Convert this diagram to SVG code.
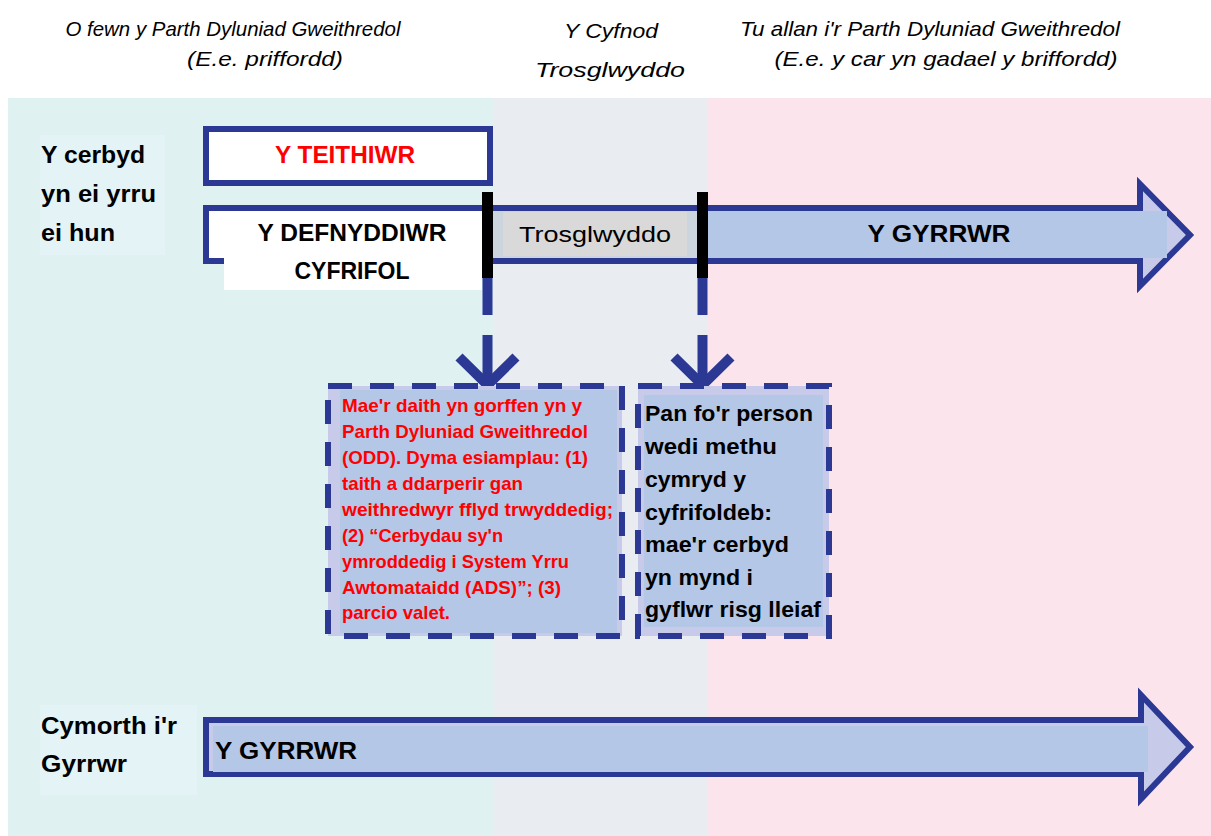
<svg xmlns="http://www.w3.org/2000/svg" width="1211" height="836" viewBox="0 0 1211 836">
<style>
.hdr{font-family:"Liberation Sans",Arial,sans-serif;font-style:italic;font-size:21px;fill:#000}
.b{font-family:"Liberation Sans",Arial,sans-serif;font-weight:bold;fill:#000}
.r{font-family:"Liberation Sans",Arial,sans-serif;font-weight:bold;fill:#ff0000}
.reg{font-family:"Liberation Sans",Arial,sans-serif;fill:#000}
.nv{stroke:#2b3894;fill:none}
.dash{stroke:#2b3894;stroke-width:6;stroke-dasharray:24 18;fill:none}
</style>
<rect width="1211" height="836" fill="#ffffff"/>
<g id="zones">
<rect x="8" y="98" width="485" height="738" fill="#dff1f1"/>
<rect x="493" y="98" width="215" height="738" fill="#e9edf1"/>
<rect x="708" y="98" width="503" height="738" fill="#fce4ec"/>
</g>
<g id="headers">
<text class="hdr" x="233" y="36" text-anchor="middle" textLength="335" lengthAdjust="spacingAndGlyphs">O fewn y Parth Dyluniad Gweithredol</text>
<text class="hdr" x="265" y="66" text-anchor="middle" textLength="156" lengthAdjust="spacingAndGlyphs">(E.e. priffordd)</text>
<text class="hdr" x="611" y="38" text-anchor="middle" textLength="94" lengthAdjust="spacingAndGlyphs">Y Cyfnod</text>
<text class="hdr" x="610" y="77" text-anchor="middle" textLength="150" lengthAdjust="spacingAndGlyphs">Trosglwyddo</text>
<text class="hdr" x="930" y="36" text-anchor="middle" textLength="380" lengthAdjust="spacingAndGlyphs">Tu allan i'r Parth Dyluniad Gweithredol</text>
<text class="hdr" x="946" y="66" text-anchor="middle" textLength="343" lengthAdjust="spacingAndGlyphs">(E.e. y car yn gadael y briffordd)</text>
</g>
<g id="label-self-driving">
<rect x="40" y="135" width="125" height="120" fill="#e3f3f6"/>
<text class="b" font-size="23" x="41" y="163" textLength="104" lengthAdjust="spacingAndGlyphs">Y cerbyd</text>
<text class="b" font-size="23" x="41" y="202" textLength="115" lengthAdjust="spacingAndGlyphs">yn ei yrru</text>
<text class="b" font-size="23" x="41" y="241" textLength="74" lengthAdjust="spacingAndGlyphs">ei hun</text>
</g>
<g id="node-teithiwr">
<rect x="206" y="129" width="284" height="54" fill="#ffffff" stroke="#2b3894" stroke-width="6"/>
<text class="r" font-size="23" x="345" y="163" text-anchor="middle" textLength="140" lengthAdjust="spacingAndGlyphs">Y TEITHIWR</text>
</g>
<g id="arrow-row1">
<polygon points="206,208 1140,208 1140,184 1190,235 1140,286 1140,261 206,261" fill="#c7cae8" stroke="#2b3894" stroke-width="6" stroke-linejoin="miter"/>
<rect x="209" y="211" width="276" height="47" fill="#ffffff"/>
<rect x="490" y="211" width="210" height="47" fill="#ccd5de"/>
<rect x="503" y="212" width="184" height="44" fill="#d9d9d9"/>
<rect x="705" y="211" width="462" height="47" fill="#b4c7e7"/>
<text class="reg" font-size="22" x="595" y="242" text-anchor="middle" textLength="152" lengthAdjust="spacingAndGlyphs">Trosglwyddo</text>
<text class="b" font-size="24" x="939" y="242" text-anchor="middle" textLength="143" lengthAdjust="spacingAndGlyphs">Y GYRRWR</text>
</g>
<g id="node-defnyddiwr">
<rect x="224" y="211" width="258" height="79" fill="#ffffff"/>
<text class="b" font-size="23" x="352" y="241" text-anchor="middle" textLength="189" lengthAdjust="spacingAndGlyphs">Y DEFNYDDIWR</text>
<text class="b" font-size="23" x="352" y="279" text-anchor="middle" textLength="115" lengthAdjust="spacingAndGlyphs">CYFRIFOL</text>
</g>
<g id="connectors">
<rect x="482" y="192" width="11" height="86" fill="#000000"/>
<rect x="697" y="192" width="11" height="86" fill="#000000"/>
<line class="nv" x1="487.5" y1="278" x2="487.5" y2="315" stroke-width="10"/>
<line class="nv" x1="487.5" y1="335" x2="487.5" y2="384" stroke-width="10"/>
<polyline class="nv" points="459,357 487.5,385 516,357" stroke-width="10"/>
<line class="nv" x1="702.5" y1="278" x2="702.5" y2="315" stroke-width="10"/>
<line class="nv" x1="702.5" y1="335" x2="702.5" y2="384" stroke-width="10"/>
<polyline class="nv" points="674,357 702.5,385 731,357" stroke-width="10"/>
</g>
<g id="node-odd-note">
<rect x="328" y="386" width="294" height="250" fill="#c7cae8"/>
<rect x="340" y="390" width="277" height="243" fill="#b4c7e7"/>
<rect class="dash" x="328" y="386" width="294" height="250"/>
<text class="r" font-size="18.5" x="342" y="412" textLength="240" lengthAdjust="spacingAndGlyphs">Mae'r daith yn gorffen yn y</text>
<text class="r" font-size="18.5" x="342" y="438" textLength="246" lengthAdjust="spacingAndGlyphs">Parth Dyluniad Gweithredol</text>
<text class="r" font-size="18.5" x="342" y="464" textLength="246" lengthAdjust="spacingAndGlyphs">(ODD). Dyma esiamplau: (1)</text>
<text class="r" font-size="18.5" x="342" y="490" textLength="181" lengthAdjust="spacingAndGlyphs">taith a ddarperir gan</text>
<text class="r" font-size="18.5" x="342" y="516" textLength="271" lengthAdjust="spacingAndGlyphs">weithredwyr fflyd trwyddedig;</text>
<text class="r" font-size="18.5" x="342" y="542" textLength="161" lengthAdjust="spacingAndGlyphs">(2) “Cerbydau sy'n</text>
<text class="r" font-size="18.5" x="342" y="568" textLength="227" lengthAdjust="spacingAndGlyphs">ymroddedig i System Yrru</text>
<text class="r" font-size="18.5" x="342" y="594" textLength="219" lengthAdjust="spacingAndGlyphs">Awtomataidd (ADS)”; (3)</text>
<text class="r" font-size="18.5" x="342" y="619" textLength="108" lengthAdjust="spacingAndGlyphs">parcio valet.</text>
</g>
<g id="node-mrc-note">
<rect x="638" y="386" width="191" height="250" fill="#c7cae8"/>
<rect x="644" y="395" width="179" height="232" fill="#b4c7e7"/>
<rect class="dash" x="638" y="386" width="191" height="250"/>
<text class="b" font-size="22.5" x="645" y="421" textLength="168" lengthAdjust="spacingAndGlyphs">Pan fo'r person</text>
<text class="b" font-size="22.5" x="645" y="454" textLength="132" lengthAdjust="spacingAndGlyphs">wedi methu</text>
<text class="b" font-size="22.5" x="645" y="487" textLength="101" lengthAdjust="spacingAndGlyphs">cymryd y</text>
<text class="b" font-size="22.5" x="645" y="520" textLength="127" lengthAdjust="spacingAndGlyphs">cyfrifoldeb:</text>
<text class="b" font-size="22.5" x="645" y="552" textLength="144" lengthAdjust="spacingAndGlyphs">mae'r cerbyd</text>
<text class="b" font-size="22.5" x="645" y="585" textLength="108" lengthAdjust="spacingAndGlyphs">yn mynd i</text>
<text class="b" font-size="22.5" x="645" y="617" textLength="176" lengthAdjust="spacingAndGlyphs">gyflwr risg lleiaf</text>
</g>
<g id="label-driver-assist">
<rect x="40" y="705" width="157" height="90" fill="#e3f3f6"/>
<text class="b" font-size="23" x="41" y="734" textLength="136" lengthAdjust="spacingAndGlyphs">Cymorth i'r</text>
<text class="b" font-size="23" x="41" y="772" textLength="86" lengthAdjust="spacingAndGlyphs">Gyrrwr</text>
</g>
<g id="arrow-row2">
<polygon points="206,720 1141,720 1141,695 1190,747 1141,799 1141,774 206,774" fill="#c7cae8" stroke="#2b3894" stroke-width="6" stroke-linejoin="miter"/>
<rect x="213" y="726" width="935" height="46" fill="#b4c7e7"/>
<text class="b" font-size="24" x="215" y="759" textLength="142" lengthAdjust="spacingAndGlyphs">Y GYRRWR</text>
</g>
</svg>
